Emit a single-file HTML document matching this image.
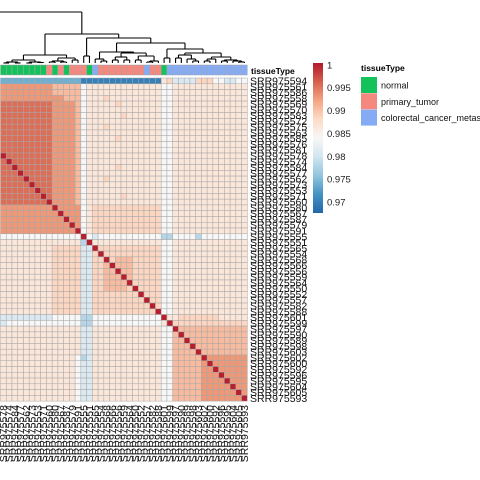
<!DOCTYPE html>
<html><head><meta charset="utf-8"><style>
html,body{margin:0;padding:0;background:#fff;}
svg{display:block;font-family:"Liberation Sans",sans-serif;}
</style></head><body>
<svg id="chart" width="480" height="480" viewBox="0 0 480 480">
<defs>
<linearGradient id="cbar" x1="0" y1="1" x2="0" y2="0">
<stop offset="0" stop-color="#2166AC"/><stop offset="0.125" stop-color="#4393C3"/><stop offset="0.25" stop-color="#92C5DE"/><stop offset="0.375" stop-color="#D1E5F0"/><stop offset="0.5" stop-color="#F7F7F7"/><stop offset="0.625" stop-color="#FDDBC7"/><stop offset="0.75" stop-color="#F4A582"/><stop offset="0.875" stop-color="#D6604D"/><stop offset="1" stop-color="#B2182B"/>
</linearGradient>
</defs>
<g id="dendro"></g>
<g id="annot"></g>
<g id="cells"></g>
<g id="rowlabels"></g>
<g id="collabels"></g>
<text x="251" y="74" font-size="8.5" font-weight="bold">tissueType</text>
<g>
<rect x="313" y="63" width="10" height="150" fill="url(#cbar)"/>
<g id="cbticks" font-size="9.5" fill="#222"></g>
</g>
<g>
<text x="361" y="71" font-size="8.5" font-weight="bold">tissueType</text>
<g id="tlegend" font-size="9"></g>
</g>
</svg>
<script>
const NS="http://www.w3.org/2000/svg";
const colTissue=["G","G","G","G","G","G","G","G","P","G","P","G","P","P","P","G","B","P","P","P","P","P","P","P","P","B","P","P","G","B","B","B","B","B","B","B","B","B","B","B","B","B","B"];
const tissueNames=["normal","primary_tumor","colorectal_cancer_metastasis"];
const tissueCodes=["G","P","B"];
const tissueColors={G:"#14C25B",P:"#F4877E",B:"#85ABF5"};
const levelValues={"0":0.970,"1":0.974,"2":0.978,"3":0.981,"4":0.984,"5":0.9865,"6":0.9885,"7":0.9905,"8":0.993,"9":0.9955,"R":1.0};
const cbTicks=[1,0.995,0.99,0.985,0.98,0.975,0.97];
const rows=[
"1111111111111100000000000000563333666443344",
"8888888887777745555555555555445555555555555",
"8888888887777745555555555555445555555555555",
"8888888888877745556555555555445555555555555",
"9999999998888745555565555555445555555555555",
"9999999998888745555555555555445555555555555",
"9999999998888745555556555555445555555555555",
"9999999998888745555555555555445555555555555",
"9999999998888745556555555555445555555555555",
"9999999998888745555555555555445555555555555",
"9999999998888745555565555555445555555555555",
"9999999998888745555555555555445555555555555",
"9999999998888745555555555555445555555555555",
"R999999998888745555555555555445555555555555",
"9R99999998888745555555555555445555555555555",
"99R9999998888745555565555555445555555555555",
"999R999998888745555555555555445555555555555",
"9999R99998888745556555555555445555555555555",
"99999R9998888745555555555555445555555555555",
"999999R998888745555555555555445555555555555",
"9999999R98888745555556555555445555555555555",
"99999999R8888745555555555555445555555555555",
"888888888R888845666666666666445555555555555",
"8888888888R88845666666666666445555555555555",
"88888888888R8845666666666666445555555555555",
"888888888888R845666666666666445555555555555",
"8888888888888R45666666666666445555555555555",
"44444444444444R4344444444444224444244444444",
"555555555555552R555555555555445555555555555",
"5555555556666633R66666666666445555555555555",
"55555555566666336R6666666666445555555555555",
"555555555666663366R677766666445555555555555",
"5555555556666633667R77766666445555555555555",
"55555555566666336677R7766666445555555555555",
"555555555666663366777R766666445555555555555",
"5555555556666633667777R66666445555555555555",
"55555555566666336677776R6666445555555555555",
"555555555666663366666666R666445555555555555",
"5555555556666633666666666R66445555555555555",
"55555555566666336666666666R6445555555555555",
"555555555666663366666666666R445555555555555",
"3333333334444422444444444444R55666666655555",
"34444444444444224444444444445R6666666666666",
"555555555555553355555555555544R777777777777",
"5555555555555533555555555555447R77777777777",
"55555555555555335555555555554477R7777777777",
"555555555555553355555555555544777R777777777",
"5555555555555533555555555555447777R77777777",
"55555555555554235555555555554477777R8888888",
"555555555555543355555555555544777778R888888",
"5555555555555433555555555555447777788R88888",
"55555555555554335555555555554477777888R8888",
"555555555555543355555555555544777778888R888",
"5555555555555433555555555555447777788888R88",
"55555555555554335555555555554477777888888R8",
"555555555555543355555555555544777778888888R"
];
const rowNames=["SRR975594","SRR975561","SRR975586","SRR975558","SRR975569","SRR975570","SRR975583","SRR975572","SRR975575","SRR975563","SRR975585","SRR975576","SRR975581","SRR975578","SRR975574","SRR975584","SRR975577","SRR975562","SRR975573","SRR975553","SRR975571","SRR975560","SRR975580","SRR975567","SRR975587","SRR975579","SRR975591","SRR975555","SRR975551","SRR975565","SRR975554","SRR975568","SRR975566","SRR975556","SRR975559","SRR975564","SRR975550","SRR975552","SRR975557","SRR975582","SRR975588","SRR975601","SRR975599","SRR975597","SRR975590","SRR975589","SRR975598","SRR975603","SRR975602","SRR975600","SRR975592","SRR975596","SRR975595","SRR975604","SRR975605","SRR975593"];
const colNames=rowNames.slice(13);
const tree=[34,[55,[60,[62,[63,0,1],[63,2,3]],[62,[63,4,5],[62.5,6,7]]],[58,[61,[62,8,9],[62,10,11]],[60,12,13]]],
 [38,[56,14,15],[43,[52,[59,16,[61,17,18]],[53,[57,[60,19,20],[60,21,22]],[56,[60,23,24],[61,[62,25,26],27]]]],
  [49,[58,28,29],[53,[55,[58,30,31],[59,32,[61,33,34]]],[57,[59,[61,35,36],37],[60,[61,38,39],[61,40,[62,41,42]]]]]]]]];
const rootHeight=12;

const X0=0.5, Y0=78, CW=5.74, RH=5.77, LEAFY=63;
const xOf=c=>X0+c*CW, yOf=r=>Y0+r*RH;
const vMin=0.9676, vMax=1.0004;
const stops=["#2166AC","#4393C3","#92C5DE","#D1E5F0","#F7F7F7","#FDDBC7","#F4A582","#D6604D","#B2182B"];
function hex(h){return [1,3,5].map(i=>parseInt(h.substr(i,2),16));}
function colorOf(v){let t=Math.max(0,Math.min(1,(v-vMin)/(vMax-vMin)))*(stops.length-1);let i=Math.min(stops.length-2,Math.floor(t)),f=t-i;const a=hex(stops[i]),b=hex(stops[i+1]);return "rgb("+a.map((x,k)=>Math.round(x+(b[k]-x)*f)).join(",")+")";}
const yScale=v=>63+(vMax-v)/(vMax-vMin)*150;
function mk(tag,attrs,parent){const e=document.createElementNS(NS,tag);for(const k in attrs)e.setAttribute(k,attrs[k]);parent.appendChild(e);return e;}

const cellsG=document.getElementById("cells");
rows.forEach((s,r)=>{
  for(let c=0;c<colNames.length;c++){
    const ch=s[c]||"5";
    const el=mk("rect",{x:xOf(c),y:yOf(r),width:CW,height:RH,fill:colorOf(levelValues[ch]),stroke:"#A6A6A6","stroke-width":0.5},cellsG);
    
    
  }
});
const annotG=document.getElementById("annot");
colTissue.forEach((t,c)=>{
  const el=mk("rect",{x:xOf(c),y:65,width:CW,height:10,fill:tissueColors[t],stroke:"#A6A6A6","stroke-width":0.5},annotG);
  
  
});
const rlG=document.getElementById("rowlabels");
rowNames.forEach((n,r)=>{
  const el=mk("text",{x:250,y:yOf(r)+RH/2+3.6,"font-size":10.5,fill:"#111"},rlG);
  el.textContent=n;
  
  
});
const clG=document.getElementById("collabels");
colNames.forEach((n,c)=>{
  const cx=xOf(c)+CW/2+3.6;
  const el=mk("text",{x:0,y:0,"font-size":10.5,fill:"#111","text-anchor":"end",transform:"translate("+cx+",405) rotate(-90)"},clG);
  el.textContent=n;
  
  
});
const dg=document.getElementById("dendro");
function line(x1,y1,x2,y2){
  const el=mk("line",{x1:x1,y1:y1,x2:x2,y2:y2,stroke:"#000","stroke-width":1.1},dg);
  
  
}
function drawNode(n){
  if(typeof n==="number")return [xOf(n)+CW/2,LEAFY];
  const h=n[0];const a=drawNode(n[1]),b=drawNode(n[2]);
  line(a[0],h,a[0],a[1]);line(b[0],h,b[0],b[1]);line(a[0],h,b[0],h);
  return [(a[0]+b[0])/2,h];
}
const rootPos=drawNode(tree);
line(0,rootHeight,rootPos[0],rootHeight);
line(rootPos[0],rootHeight,rootPos[0],rootPos[1]);
const cbG=document.getElementById("cbticks");
cbTicks.forEach(v=>{
  const el=mk("text",{x:327,y:yScale(v)+3.5},cbG);
  el.textContent=String(v);
  
  
});
const tlG=document.getElementById("tlegend");
tissueCodes.forEach((t,i)=>{
  const y=77+i*16.3;
  const r=mk("rect",{x:361,y:y,width:16,height:16,fill:tissueColors[t]},tlG);
  
  
  const tx=mk("text",{x:381,y:y+11.5,fill:"#111"},tlG);
  tx.textContent=tissueNames[i];
  
  
});
</script>
</body></html>
